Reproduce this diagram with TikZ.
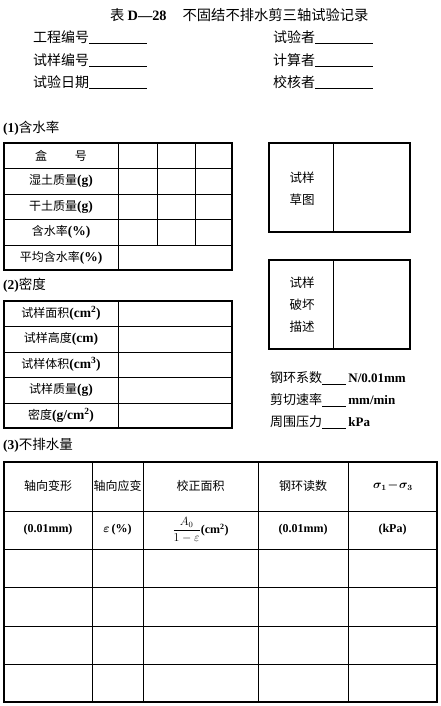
\documentclass[tikz,border=0pt]{standalone}
\usepackage{fontspec,amsmath}
\setmainfont{Liberation Serif}
\newfontfamily\cjk{Noto Sans CJK SC}
\newcommand{\lat}[1]{{\rmfamily\bfseries #1}}
\newcommand{\latc}[1]{{\rmfamily\bfseries\fontsize{13.5}{15}\selectfont #1}}
\newcommand{\blank}[1]{\rule[-1.5pt]{#1}{0.6pt}}
\tikzset{outer/.style={line width=1.8pt}}
\tikzset{grid/.style={line width=0.7pt}}
\tikzset{title/.style={anchor=west,inner sep=0pt,font=\cjk\fontsize{14.3}{16}\selectfont}}
\tikzset{label/.style={anchor=west,inner sep=0pt,font=\cjk\fontsize{14}{16}\selectfont}}
\tikzset{cell/.style={inner sep=0pt,align=center,font=\cjk\fontsize{12}{14}\selectfont}}

\begin{document}
\begin{tikzpicture}[x=1pt,y=-1pt]
\useasboundingbox (0,0) rectangle (441,706);

% heading
\node [title] (head) at (110,15) {表 \lat{D---28}\hspace{16pt}不固结不排水剪三轴试验记录};
\node [label] (l1) at (33,37) {工程编号\blank{58pt}};
\node [label] (l2) at (33,60) {试样编号\blank{58pt}};
\node [label] (l3) at (33,82) {试验日期\blank{58pt}};
\node [label] (r1) at (273,37) {试验者\blank{58pt}};
\node [label] (r2) at (273,60) {计算者\blank{58pt}};
\node [label] (r3) at (273,82) {校核者\blank{58pt}};

% (1) water content
\node [label,font=\cjk\fontsize{13.5}{15}\selectfont] (s1) at (3,128) {\lat{(1)}含水率};
\draw [outer] (4,143) rectangle (232,270);
\foreach \y in {168,194,219,245}
  \draw [grid] (4,\y) -- (232,\y);
\draw [grid] (118,143) -- (118,270);
\draw [grid] (157,143) -- (157,245);
\draw [grid] (195,143) -- (195,245);
\node [cell] (w1) at (61,155.5) {盒\hspace{28pt}号};
\node [cell] (w2) at (61,181) {湿土质量\latc{(g)}};
\node [cell] (w3) at (61,206.5) {干土质量\latc{(g)}};
\node [cell] (w4) at (61,232) {含水率\latc{(\%)}};
\node [cell] (w5) at (61,257.5) {平均含水率\latc{(\%)}};

% sketch boxes
\draw [outer] (269,143) rectangle (410,232);
\draw [grid] (333,143) -- (333,232);
\node [cell,font=\cjk\fontsize{12.5}{22}\selectfont] (sk) at (302,189) {试样\\草图};
\draw [outer] (269,260) rectangle (410,349);
\draw [grid] (333,260) -- (333,349);
\node [cell,font=\cjk\fontsize{12.5}{22}\selectfont] (fd) at (302,305) {试样\\破坏\\描述};

% (2) density
\node [label,font=\cjk\fontsize{13.5}{15}\selectfont] (s2) at (3,285) {\lat{(2)}密度};
\draw [outer] (4,301) rectangle (232,428);
\foreach \y in {326,352,377,403}
  \draw [grid] (4,\y) -- (232,\y);
\draw [grid] (118,301) -- (118,428);
\node [cell] (d1) at (61,313.5) {试样面积\latc{(cm$^{\mathbf 2}$)}};
\node [cell] (d2) at (61,339) {试样高度\latc{(cm)}};
\node [cell] (d3) at (61,364.5) {试样体积\latc{(cm$^{\mathbf 3}$)}};
\node [cell] (d4) at (61,390) {试样质量\latc{(g)}};
\node [cell] (d5) at (61,415.5) {密度\latc{(g/cm$^{\mathbf 2}$)}};

% test parameters
\node [label,font=\cjk\fontsize{13}{15}\selectfont] (p1) at (270,378) {钢环系数\blank{24pt}\,\lat{N/0.01mm}};
\node [label,font=\cjk\fontsize{13}{15}\selectfont] (p2) at (270,400) {剪切速率\blank{24pt}\,\lat{mm/min}};
\node [label,font=\cjk\fontsize{13}{15}\selectfont] (p3) at (270,422) {周围压力\blank{24pt}\,\lat{kPa}};

% (3) undrained
\node [label,font=\cjk\fontsize{13.5}{15}\selectfont] (s3) at (3,445) {\lat{(3)}不排水量};
\draw [outer] (4,462) rectangle (437,702);
\foreach \y in {511,549,587,626,664}
  \draw [grid] (4,\y) -- (437,\y);
\foreach \x in {92,143,258,348}
  \draw [grid] (\x,462) -- (\x,702);
\node [cell] (h1) at (48,486) {轴向变形};
\node [cell] (h2) at (117.5,486) {轴向应变};
\node [cell] (h3) at (200.5,486) {校正面积};
\node [cell] (h4) at (303,486) {钢环读数};
\node [cell] (h5) at (393,486) {\lat{$\boldsymbol{\sigma_1\!-\!\sigma_3}$}};
\node [cell] (u1) at (48,530) {\lat{(0.01mm)}};
\node [cell] (u2) at (117.5,530) {\lat{$\boldsymbol\varepsilon$\,(\%)}};
\node [cell] (u3) at (200.5,530) {\lat{$\dfrac{A_0}{1-\varepsilon}$(cm$^{\mathbf 2}$)}};
\node [cell] (u4) at (303,530) {\lat{(0.01mm)}};
\node [cell] (u5) at (392.5,530) {\lat{(kPa)}};
\end{tikzpicture}
\end{document}
